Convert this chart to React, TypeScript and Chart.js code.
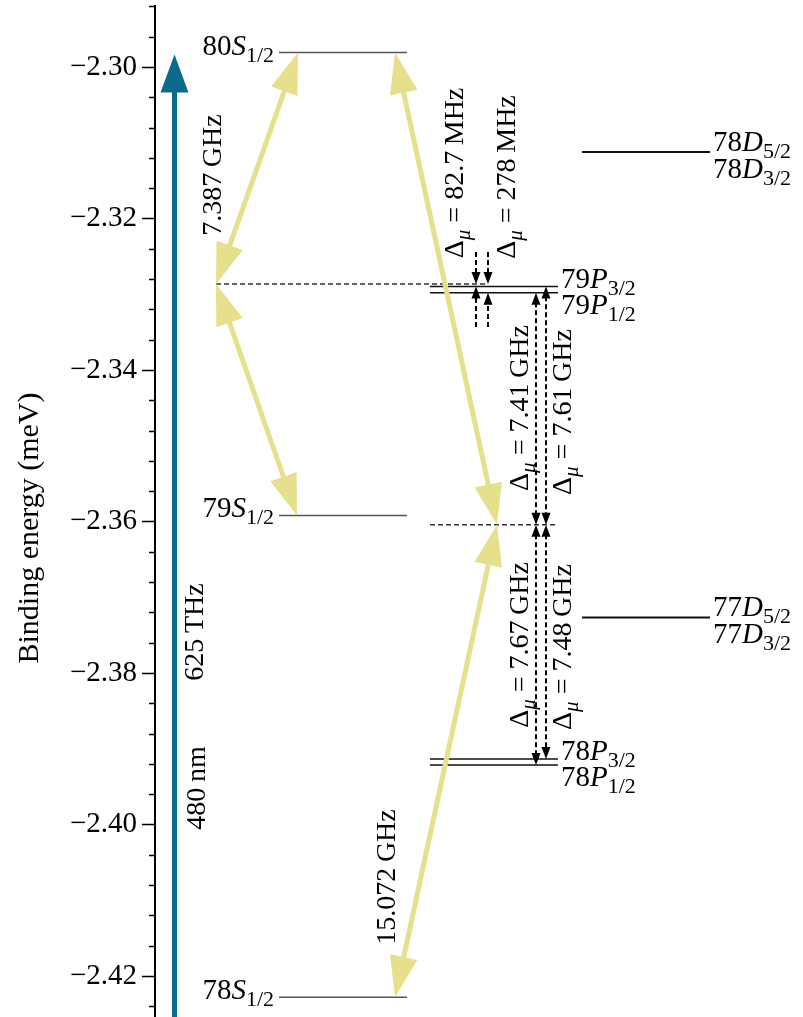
import React, { useEffect, useRef } from 'react';
import { Chart, registerables } from 'chart.js';

Chart.register(...registerables);

// ---------------- Data (binding energies, meV) ----------------
const Y_TICKS = [-2.42, -2.4, -2.38, -2.36, -2.34, -2.32, -2.3];
const Y_MINOR_STEP = 0.004;
const Y_MIN = -2.42977;
const Y_MAX = -2.29195;

const S_NAMES = ['80', '79', '78'];
const S_ENERGIES = [-2.2981, -2.3592, -2.4228];

const P_NAMES = ['79', '78'];
const P32_ENERGIES = [-2.32899, -2.39136];
const P12_ENERGIES = [-2.3298, -2.39215];

const D_NAMES = ['78', '77'];
const D_ENERGIES = [-2.31122, -2.37267];

// two-photon (virtual) levels
const VIRTUAL_ENERGIES = [-2.32865, -2.36043];

// dashed detuning-arrow tails (82.7 MHz / 278 MHz markers)
const MARK_TAIL_TOP = -2.32442;
const MARK_TAIL_BOTTOM = -2.33432;

// ---------------- Layout (x in column units) ----------------
const X_MAX = 6.48;
const S_COL = [1.24, 2.52];
const P_COL = [2.75, 4.03];
const D_COL = [4.27, 5.55];
const VIRT_COLS = [
  [0.61, 3.32],
  [2.75, 4.03],
];

const FONT = '"Liberation Serif", "DejaVu Serif", serif';
const YELLOW = '#e6e08c';
const BLUE = '#0c6a8d';

type Part = { t: string; it?: boolean; sub?: boolean };
type Sz = { big: number; sub: number; off: number };
const LEVEL_SZ: Sz = { big: 29, sub: 22, off: 7 };
const ROT_SZ: Sz = { big: 28, sub: 21, off: 7 };

function setFont(ctx: CanvasRenderingContext2D, p: Part, sz: Sz) {
  ctx.font = `${p.it ? 'italic ' : ''}${p.sub ? sz.sub : sz.big}px ${FONT}`;
}
function measureParts(ctx: CanvasRenderingContext2D, parts: Part[], sz: Sz) {
  let w = 0;
  for (const p of parts) {
    setFont(ctx, p, sz);
    w += ctx.measureText(p.t).width;
  }
  return w;
}
function drawParts(ctx: CanvasRenderingContext2D, parts: Part[], x: number, y: number, sz: Sz) {
  ctx.textAlign = 'left';
  ctx.textBaseline = 'alphabetic';
  ctx.fillStyle = '#000';
  let cx = x;
  for (const p of parts) {
    setFont(ctx, p, sz);
    ctx.fillText(p.t, cx, p.sub ? y + sz.off : y);
    cx += ctx.measureText(p.t).width;
  }
}

function head(ctx: CanvasRenderingContext2D, tx: number, ty: number, ux: number, uy: number, hl: number, hw: number) {
  const bx = tx - ux * hl;
  const by = ty - uy * hl;
  const px = -uy;
  const py = ux;
  ctx.beginPath();
  ctx.moveTo(tx, ty);
  ctx.lineTo(bx + (px * hw) / 2, by + (py * hw) / 2);
  ctx.lineTo(bx - (px * hw) / 2, by - (py * hw) / 2);
  ctx.closePath();
  ctx.fill();
}

function arrow(
  ctx: CanvasRenderingContext2D,
  x0: number, y0: number, x1: number, y1: number,
  o: { color: string; lw: number; hl: number; hw: number; start?: boolean; end?: boolean; dash?: number[] }
) {
  const dx = x1 - x0;
  const dy = y1 - y0;
  const L = Math.hypot(dx, dy);
  const ux = dx / L;
  const uy = dy / L;
  const sx = o.start ? x0 + ux * o.hl * 0.8 : x0;
  const sy = o.start ? y0 + uy * o.hl * 0.8 : y0;
  const ex = o.end ? x1 - ux * o.hl * 0.8 : x1;
  const ey = o.end ? y1 - uy * o.hl * 0.8 : y1;
  ctx.save();
  ctx.strokeStyle = o.color;
  ctx.fillStyle = o.color;
  ctx.lineWidth = o.lw;
  ctx.setLineDash(o.dash || []);
  ctx.beginPath();
  ctx.moveTo(sx, sy);
  ctx.lineTo(ex, ey);
  ctx.stroke();
  ctx.setLineDash([]);
  if (o.end) head(ctx, x1, y1, ux, uy, o.hl, o.hw);
  if (o.start) head(ctx, x0, y0, -ux, -uy, o.hl, o.hw);
  ctx.restore();
}

// yellow microwave arrows: [x0, E0, x1, E1]
const YELLOW_ARROWS: [number, number, number, number][] = [
  [1.43, S_ENERGIES[0], 0.61, VIRTUAL_ENERGIES[0]],
  [0.61, VIRTUAL_ENERGIES[0], 1.42, S_ENERGIES[1]],
  [2.4, S_ENERGIES[0], 3.42, VIRTUAL_ENERGIES[1]],
  [3.42, VIRTUAL_ENERGIES[1], 2.4, S_ENERGIES[2]],
];
const BLUE_X = 0.195;

// dashed black detuning arrows: [x, E0, E1, headAtStart, headAtEnd]
const DETUNING_ARROWS: [number, number, number, boolean, boolean][] = [
  [3.21, MARK_TAIL_TOP, VIRTUAL_ENERGIES[0], false, true],
  [3.21, MARK_TAIL_BOTTOM, P32_ENERGIES[0], false, true],
  [3.33, MARK_TAIL_TOP, VIRTUAL_ENERGIES[0], false, true],
  [3.33, MARK_TAIL_BOTTOM, P12_ENERGIES[0], false, true],
  [3.81, P12_ENERGIES[0], VIRTUAL_ENERGIES[1], true, true],
  [3.81, VIRTUAL_ENERGIES[1], P12_ENERGIES[1], true, true],
  [3.91, P32_ENERGIES[0], VIRTUAL_ENERGIES[1], true, true],
  [3.91, VIRTUAL_ENERGIES[1], P32_ENERGIES[1], true, true],
];

const dm = (s: string): Part[] => [{ t: 'Δ' }, { t: 'μ', it: true, sub: true }, { t: ' = ' + s }];
// rotated labels: parts, x (baseline), energy (centre)
const ROT_LABELS: { parts: Part[]; x: number; e: number }[] = [
  { parts: [{ t: '7.387\u2009GHz' }], x: 0.66, e: -2.31426 },
  { parts: [{ t: '625\u2009THz' }], x: 0.48, e: -2.37459 },
  { parts: [{ t: '480\u2009nm' }], x: 0.5, e: -2.39518 },
  { parts: [{ t: '15.072\u2009GHz' }], x: 2.4, e: -2.40693 },
  { parts: dm('82.7\u2009MHz'), x: 3.08, e: -2.31399 },
  { parts: dm('278\u2009MHz'), x: 3.6, e: -2.31452 },
  { parts: dm('7.41\u2009GHz'), x: 3.73, e: -2.34502 },
  { parts: dm('7.61\u2009GHz'), x: 4.16, e: -2.34555 },
  { parts: dm('7.67\u2009GHz'), x: 3.73, e: -2.3763 },
  { parts: dm('7.48\u2009GHz'), x: 4.16, e: -2.37657 },
];

function fmt(v: number) {
  return v.toFixed(2).replace('-', '\u2212');
}

const overlay = {
  id: 'overlay',
  afterDatasetsDraw(chart: any) {
    const ctx: CanvasRenderingContext2D = chart.ctx;
    const xs = chart.scales.x;
    const ys = chart.scales.y;
    const X = (v: number) => xs.getPixelForValue(v);
    const Y = (v: number) => ys.getPixelForValue(v);

    // blue laser arrow
    arrow(ctx, X(BLUE_X), Y(Y_MIN), X(BLUE_X), Y(S_ENERGIES[0]) + 2, {
      color: BLUE, lw: 5, hl: 38, hw: 28, end: true,
    });

    // yellow microwave arrows
    for (const [x0, e0, x1, e1] of YELLOW_ARROWS) {
      arrow(ctx, X(x0), Y(e0), X(x1), Y(e1), { color: YELLOW, lw: 5, hl: 41, hw: 28, start: true, end: true });
    }

    // dashed detuning arrows
    for (const [x, e0, e1, s, en] of DETUNING_ARROWS) {
      arrow(ctx, X(x), Y(e0), X(x), Y(e1), {
        color: '#000', lw: 2, hl: 12, hw: 9, start: s, end: en, dash: [5, 3],
      });
    }

    // level labels
    S_NAMES.forEach((n, i) => {
      const parts: Part[] = [{ t: n }, { t: 'S', it: true }, { t: '1/2', sub: true }];
      const w = measureParts(ctx, parts, LEVEL_SZ);
      drawParts(ctx, parts, X(S_COL[0]) - 5 - w, Y(S_ENERGIES[i]) + 2, LEVEL_SZ);
    });
    P_NAMES.forEach((n, i) => {
      drawParts(ctx, [{ t: n }, { t: 'P', it: true }, { t: '3/2', sub: true }], X(P_COL[1]) + 3, Y(P32_ENERGIES[i]) + 1, LEVEL_SZ);
      drawParts(ctx, [{ t: n }, { t: 'P', it: true }, { t: '1/2', sub: true }], X(P_COL[1]) + 3, Y(P32_ENERGIES[i]) + 27, LEVEL_SZ);
    });
    D_NAMES.forEach((n, i) => {
      drawParts(ctx, [{ t: n }, { t: 'D', it: true }, { t: '5/2', sub: true }], X(D_COL[1]) + 3, Y(D_ENERGIES[i]) - 1, LEVEL_SZ);
      drawParts(ctx, [{ t: n }, { t: 'D', it: true }, { t: '3/2', sub: true }], X(D_COL[1]) + 3, Y(D_ENERGIES[i]) + 26, LEVEL_SZ);
    });

    // rotated labels
    for (const l of ROT_LABELS) {
      const w = measureParts(ctx, l.parts, ROT_SZ);
      ctx.save();
      ctx.translate(X(l.x), Y(l.e));
      ctx.rotate(-Math.PI / 2);
      drawParts(ctx, l.parts, -w / 2, 0, ROT_SZ);
      ctx.restore();
    }
  },
  afterDraw(chart: any) {
    const ctx: CanvasRenderingContext2D = chart.ctx;
    const ys = chart.scales.y;
    const left = chart.chartArea.left;
    ctx.save();
    ctx.strokeStyle = '#000';
    ctx.lineWidth = 1.6;
    ctx.beginPath();
    const n0 = Math.ceil(Y_MIN / Y_MINOR_STEP);
    const n1 = Math.floor(Y_MAX / Y_MINOR_STEP);
    for (let k = n0; k <= n1; k++) {
      const v = k * Y_MINOR_STEP;
      const y = Math.round(ys.getPixelForValue(v)) + 0.5;
      ctx.moveTo(left - 6, y);
      ctx.lineTo(left, y);
    }
    for (const v of Y_TICKS) {
      const y = Math.round(ys.getPixelForValue(v)) + 0.5;
      ctx.moveTo(left - 13, y);
      ctx.lineTo(left, y);
    }
    ctx.stroke();
    ctx.restore();
  },
};

function levelDataset(x0: number, x1: number, e: number, color: string, width: number, dash: number[] = []) {
  return {
    type: 'line' as const,
    data: [
      { x: x0, y: e },
      { x: x1, y: e },
    ],
    borderColor: color,
    borderWidth: width,
    borderDash: dash,
    pointRadius: 0,
    fill: false,
  };
}

export default function App() {
  const ref = useRef<HTMLCanvasElement | null>(null);
  useEffect(() => {
    document.body.style.margin = '0';
    const canvas = ref.current!;
    const datasets: any[] = [];
    S_ENERGIES.forEach((e) => datasets.push(levelDataset(S_COL[0], S_COL[1], e, '#555', 1.5)));
    P32_ENERGIES.forEach((e) => datasets.push(levelDataset(P_COL[0], P_COL[1], e, '#111', 1.5)));
    P12_ENERGIES.forEach((e) => datasets.push(levelDataset(P_COL[0], P_COL[1], e, '#111', 1.5)));
    D_ENERGIES.forEach((e) => datasets.push(levelDataset(D_COL[0], D_COL[1], e, '#111', 2)));
    VIRTUAL_ENERGIES.forEach((e, i) =>
      datasets.push(levelDataset(VIRT_COLS[i][0], VIRT_COLS[i][1], e, '#333', 1.3, [5, 3]))
    );

    const chart = new Chart(canvas, {
      type: 'line',
      data: { datasets },
      options: {
        animation: false,
        responsive: false,
        maintainAspectRatio: false,
        layout: { padding: { top: 6, left: 0, right: 0, bottom: 0 } },
        plugins: { legend: { display: false }, tooltip: { enabled: false } },
        scales: {
          x: { type: 'linear', display: false, min: 0, max: X_MAX },
          y: {
            type: 'linear',
            position: 'left',
            min: Y_MIN,
            max: Y_MAX,
            afterBuildTicks: (s: any) => {
              s.ticks = Y_TICKS.map((v) => ({ value: v }));
            },
            afterFit: (s: any) => {
              s.width = 155;
              s.paddingTop = 0;
              s.paddingBottom = 0;
            },
            ticks: {
              callback: (v: any) => fmt(Number(v)),
              font: { family: FONT, size: 29 },
              color: '#000',
              padding: 18,
            },
            grid: { drawOnChartArea: false, drawTicks: false },
            border: { display: true, color: '#000', width: 2 },
            title: {
              display: true,
              text: 'Binding energy (meV)',
              font: { family: FONT, size: 30 },
              color: '#000',
              padding: { top: 12, bottom: 0 },
            },
          },
        },
      } as any,
      plugins: [overlay],
    });
    return () => chart.destroy();
  }, []);

  return (
    <div style={{ position: 'absolute', top: 0, left: 0, width: 803, height: 1017, overflow: 'hidden', background: '#fff' }}>
      <canvas ref={ref} width={803} height={1050} style={{ width: 803, height: 1050, display: 'block' }} />
    </div>
  );
}
